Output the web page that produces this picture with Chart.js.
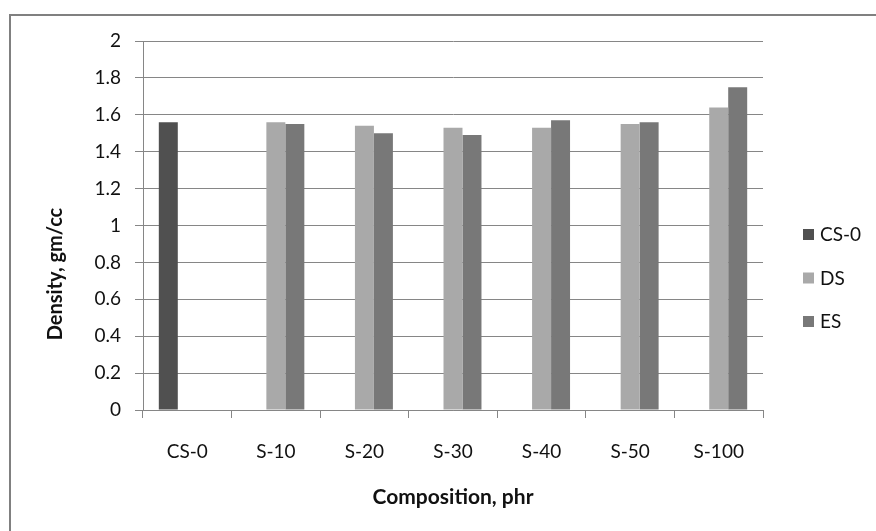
<!DOCTYPE html>
<html>
<head>
<meta charset="utf-8">
<script src="https://cdn.jsdelivr.net/npm/chart.js@4/dist/chart.umd.min.js"></script>
<style>
  html, body { margin: 0; padding: 0; background: #ffffff; }
  #wrap { width: 876px; height: 531px; position: relative; }
</style>
</head>
<body>
<div id="wrap"><canvas id="c" width="876" height="531"></canvas></div>
<script>
// Density of each composition, by filler series
const categories = ['CS-0', 'S-10', 'S-20', 'S-30', 'S-40', 'S-50', 'S-100'];
const seriesNames = ['CS-0', 'DS', 'ES'];
const cs0Values = [1.56, null, null, null, null, null, null];
const dsValues  = [null, 1.56, 1.54, 1.53, 1.53, 1.55, 1.64];
const esValues  = [null, 1.55, 1.50, 1.49, 1.57, 1.56, 1.75];
const yTicks = [0, 0.2, 0.4, 0.6, 0.8, 1, 1.2, 1.4, 1.6, 1.8, 2];
const xTitle = 'Composition, phr';
const yTitle = 'Density, gm/cc';

const FONT = 'Lato, "Open Sans", sans-serif';
const GRID = '#868686';

// Frame lines along the top and left of the figure
const framePlugin = {
  id: 'frame',
  beforeDraw(chart) {
    const ctx = chart.ctx;
    ctx.save();
    ctx.fillStyle = '#ffffff';
    ctx.fillRect(0, 0, chart.width, chart.height);
    ctx.strokeStyle = '#808080';
    ctx.lineWidth = 2;
    ctx.beginPath();
    ctx.moveTo(10, chart.height);
    ctx.lineTo(10, 15);
    ctx.lineTo(chart.width, 15);
    ctx.stroke();
    ctx.restore();
  }
};

// Rotated value-axis title and a right-hand legend
const sideTextPlugin = {
  id: 'sideText',
  afterDraw(chart) {
    const ctx = chart.ctx;
    const area = chart.chartArea;
    ctx.save();
    ctx.fillStyle = '#111111';
    ctx.font = 'bold 20px ' + FONT;
    ctx.textAlign = 'center';
    ctx.textBaseline = 'middle';
    ctx.translate(56, 274);
    ctx.rotate(-Math.PI / 2);
    ctx.fillText(yTitle, 0, 0);
    ctx.restore();

    ctx.save();
    ctx.font = '19px ' + FONT;
    ctx.textBaseline = 'middle';
    ctx.textAlign = 'left';
    const x0 = area.right + 40;
    const yStart = 234;
    const step = 43.5;
    chart.data.datasets.forEach((ds, i) => {
      const y = yStart + i * step;
      ctx.fillStyle = ds.backgroundColor;
      ctx.fillRect(x0, y - 5, 11, 11);
      ctx.fillStyle = '#111111';
      ctx.fillText(ds.label, x0 + 17, y + 1);
    });
    ctx.restore();
  }
};

const colors = ['#505050', '#a9a9a9', '#787878'];
const values = [cs0Values, dsValues, esValues];

new Chart(document.getElementById('c'), {
  type: 'bar',
  data: {
    labels: categories,
    datasets: seriesNames.map((name, i) => ({
      label: name,
      data: values[i],
      backgroundColor: colors[i],
      borderWidth: 0,
      categoryPercentage: 0.643,
      barPercentage: 1.0
    }))
  },
  options: {
    responsive: false,
    animation: false,
    devicePixelRatio: 1,
    layout: { padding: { top: 41, right: 113, bottom: 0, left: 0 } },
    plugins: {
      legend: { display: false },
      tooltip: { enabled: false }
    },
    scales: {
      x: {
        offset: true,
        grid: {
          display: true,
          offset: true,
          drawOnChartArea: false,
          drawTicks: true,
          tickLength: 8,
          color: GRID
        },
        border: { display: true, color: GRID, width: 1 },
        ticks: {
          color: '#111111',
          font: { family: FONT, size: 19 },
          padding: 22,
          maxRotation: 0,
          autoSkip: false
        },
        title: {
          display: true,
          text: xTitle,
          color: '#111111',
          font: { family: FONT, size: 21, weight: 'bold' },
          padding: { top: 0, bottom: 21 }
        },
        afterFit(scale) { scale.height = 121; }
      },
      y: {
        min: 0,
        max: 2,
        afterBuildTicks(scale) { scale.ticks = yTicks.map(v => ({ value: v })); },
        grid: {
          color: GRID,
          lineWidth: 1,
          drawTicks: true,
          tickLength: 8
        },
        border: { display: true, color: GRID, width: 1 },
        ticks: {
          color: '#111111',
          font: { family: FONT, size: 19 },
          padding: 14,
          callback: v => String(v)
        },
        afterFit(scale) { scale.width = 143; }
      }
    }
  },
  plugins: [framePlugin, sideTextPlugin]
});
</script>
</body>
</html>
